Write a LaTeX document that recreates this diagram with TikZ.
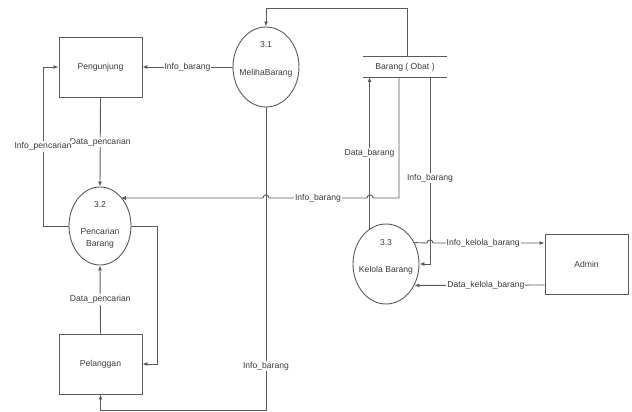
\documentclass[tikz,border=0pt]{standalone}
\usepackage{fontspec}
\setmainfont{Liberation Sans}
\usetikzlibrary{arrows.meta,shapes.geometric}
\definecolor{ln}{HTML}{5A5A5A}
\definecolor{tx}{HTML}{3A3A3A}
\begin{document}
\begin{tikzpicture}[x=1pt,y=-1pt,
  font=\fontsize{8.6}{10}\selectfont, text=tx,
  ent/.style={draw=ln, line width=0.9pt, minimum width=83pt, minimum height=60pt, inner sep=0pt},
  proc/.style={draw=ln, line width=0.9pt, ellipse, inner sep=0pt},
  lbl/.style={fill=white, inner sep=1pt},
  arr/.style={draw=ln, line width=0.9pt, -{Latex[length=5pt,width=4pt]}},
  ln/.style={draw=ln, line width=0.9pt}]
\useasboundingbox (0,0) rectangle (632,412);
% entities
\node[ent] (peng) at (100.5,67) {Pengunjung};
\node[ent] (pel) at (100.5,364) {Pelanggan};
\node[ent] (adm) at (586.5,264) {Admin};
% processes
\node[proc, minimum width=66pt, minimum height=80pt] (p31) at (266,67) {};
\node (p31n) at (266,45) {3.1};
\node (p31t) at (266,73) {MelihaBarang};
\node[proc, minimum width=62pt, minimum height=78pt] (p32) at (100,226) {};
\node (p32n) at (100,205) {3.2};
\node[align=center, font=\fontsize{8.6}{12}\selectfont] (p32t) at (100,238) {Pencarian\\Barang};
\node[proc, minimum width=66pt, minimum height=80pt] (p33) at (386,264) {};
\node (p33n) at (386,243) {3.3};
\node (p33t) at (386,270) {Kelola Barang};
% data store
\node[minimum width=84pt, minimum height=20pt, inner sep=0pt] (store) at (405,67) {Barang ( Obat )};
\draw[ln] (store.north west) -- (store.north east);
\draw[ln] (store.south west) -- (store.south east);
\coordinate (s1) at (370,77);
\coordinate (s2) at (399,77);
\coordinate (s3) at (430,77);
\coordinate (s4) at (407,57);
% flows
\draw[arr] (s4) -- (407,8) -- (p31.north |- 0,8) -- (p31.north);
\draw[arr] (p31.west) -- node[lbl, pos=0.5] (l1) {Info\_barang} (peng.east);
\draw[arr] (peng.south) -- node[lbl, pos=0.5] (l2) {Data\_pencarian} (p32.north);
\draw[arr] (p32.west) -- (43,226) -- node[lbl, pos=0.5] (l3) {Info\_pencarian} (43,67) -- (peng.west);
\draw[arr] (pel.north) -- node[lbl, pos=0.5] (l4) {Data\_pencarian} (p32.south);
\draw[arr] (p32.east) -- (157,226) |- (pel.east);
\draw[arr] (p31.south) -- node[lbl, pos=0.854] (l5) {Info\_barang} (266,410) -| (pel.south);
\draw[arr] (s2) -- (399,198) -- (373,198) .. controls (373,194) and (367,194) .. (367,198)
  -- node[lbl, pos=0.5] (l6) {Info\_barang} (269,198) .. controls (269,194) and (263,194) .. (263,198)
  -- (p32.55 |- 0,198);
\draw[arr] (p33.115) -- node[lbl, pos=0.5] (l7) {Data\_barang} (p33.115 |- s1);
\draw[arr] (s3) -- node[lbl, pos=0.54] (l8) {Info\_barang} (s3 |- p33.east) -- (p33.east);
\draw[arr] (p33.37) -- (427,243) .. controls (427,239) and (433,239) .. (433,243)
  -- node[lbl, pos=0.45] (l9) {Info\_kelola\_barang} (adm.west |- 0,243);
\draw[arr] (adm.west |- 0,285) -- node[lbl, pos=0.45] (l10) {Data\_kelola\_barang} (p33.-37);
\end{tikzpicture}
\end{document}
